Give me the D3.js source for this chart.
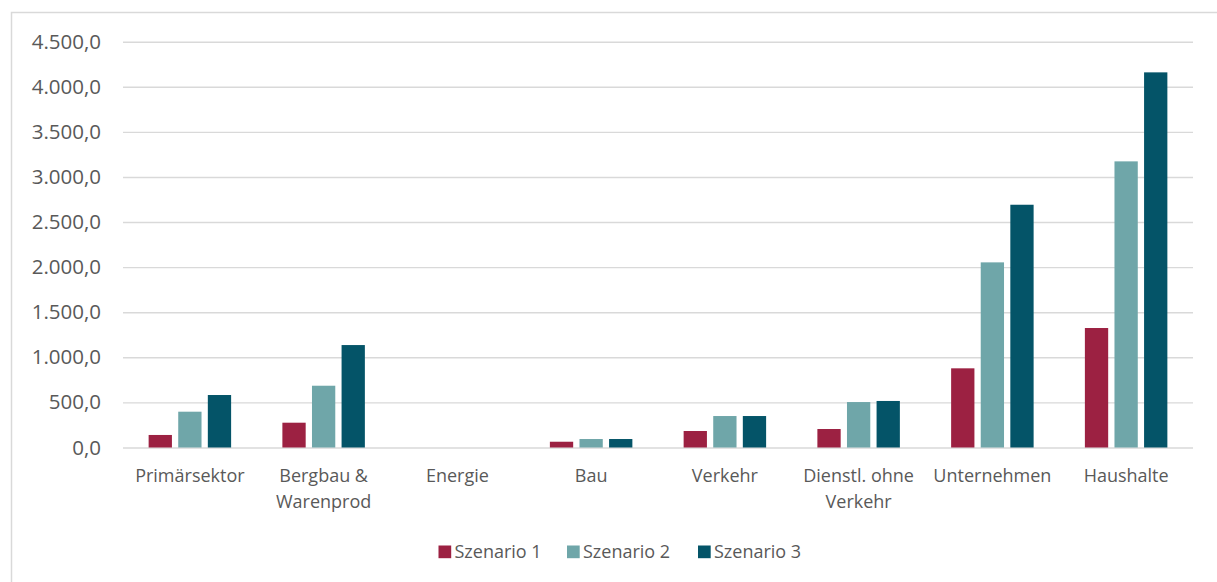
<!DOCTYPE html>
<html>
<head>
<meta charset="utf-8">
<script src="https://cdn.jsdelivr.net/npm/d3@7"></script>
<style>
  html, body { margin: 0; padding: 0; background: #fff; }
  svg { display: block; font-family: "Open Sans", "Noto Sans", sans-serif; }
</style>
</head>
<body>
<svg id="chart" width="1217" height="582"></svg>
<script>
// Kategorien (Zeilenumbruch mit "\n")
const categories = [
  "Primärsektor", "Bergbau &\nWarenprod", "Energie", "Bau",
  "Verkehr", "Dienstl. ohne\nVerkehr", "Unternehmen", "Haushalte"
];
const seriesNames = ["Szenario 1", "Szenario 2", "Szenario 3"];
const szenario1 = [139, 275, 0, 64, 183, 205, 878, 1325];
const szenario2 = [397, 685, 0, 94, 349, 504, 2053, 3173];
const szenario3 = [582, 1136, 0, 94, 349, 516, 2692, 4160];
const yTicks = [0, 500, 1000, 1500, 2000, 2500, 3000, 3500, 4000, 4500];
const colors = ["#9C2142", "#6FA6A9", "#045468"];

const seriesValues = [szenario1, szenario2, szenario3];
const svg = d3.select("#chart");

// Rahmen des Diagrammbereichs
svg.append("rect")
  .attr("x", 11.5).attr("y", 12.5)
  .attr("width", 1300).attr("height", 700)
  .attr("fill", "none").attr("stroke", "#D9D9D9").attr("stroke-width", 1.5);

const plotLeft = 123, plotRight = 1193, plotTop = 41.7, plotBottom = 447.5;

const x0 = d3.scaleBand().domain(categories).range([plotLeft, plotRight]).padding(0);
const x1 = d3.scaleBand().domain(seriesNames).range([0, x0.bandwidth()])
  .paddingInner(0.213).paddingOuter(0.866);
const y = d3.scaleLinear().domain([0, 4500]).range([plotBottom, plotTop]);

const deFmt = d3.formatLocale({ decimal: ",", thousands: ".", grouping: [3], currency: ["", " €"] });
const fmt = deFmt.format(",.1f");

// Gitterlinien und Y-Achse
const yAxis = d3.axisLeft(y).tickValues(yTicks).tickFormat(fmt)
  .tickSize(-(plotRight - plotLeft)).tickPadding(22);
const yg = svg.append("g").attr("transform", `translate(${plotLeft},0)`).call(yAxis);
yg.select(".domain").remove();
yg.selectAll(".tick line").attr("stroke", "#D9D9D9").attr("stroke-width", 1.4);
yg.selectAll(".tick text")
  .attr("fill", "#595959").style("font-size", "20.5px")
  .style("font-family", "'Open Sans', sans-serif");

// Balken
const groups = svg.append("g").selectAll("g")
  .data(categories)
  .join("g")
  .attr("transform", d => `translate(${x0(d)},0)`);

groups.selectAll("rect")
  .data((c, i) => seriesNames.map((s, j) => ({ s, v: seriesValues[j][i], j })))
  .join("rect")
  .attr("x", d => x1(d.s))
  .attr("width", x1.bandwidth())
  .attr("y", d => y(d.v))
  .attr("height", d => y(0) - y(d.v))
  .attr("fill", d => colors[d.j]);

// Kategorienbeschriftung
const xAxis = d3.axisBottom(x0).tickSize(0).tickPadding(0);
const xg = svg.append("g").attr("transform", `translate(0,${plotBottom})`).call(xAxis);
xg.select(".domain").remove();
xg.selectAll(".tick text").each(function (d) {
  const t = d3.select(this);
  t.text(null).attr("y", 0).attr("dy", null)
    .attr("fill", "#595959").style("font-size", "18px")
    .style("font-family", "'Open Sans', sans-serif");
  d.split("\n").forEach((line, k) => {
    t.append("tspan").attr("x", 0).attr("y", 34 + k * 26).text(line);
  });
});

// Legende
const legendX = [438.5, 567, 698];
const legend = svg.append("g");
seriesNames.forEach((name, j) => {
  const g = legend.append("g").attr("transform", `translate(${legendX[j]},545.5)`);
  g.append("rect").attr("width", 12.7).attr("height", 12.7).attr("fill", colors[j]);
  g.append("text").attr("x", 16).attr("y", 12.5)
    .attr("fill", "#595959").style("font-size", "18px").text(name);
});
</script>
</body>
</html>
